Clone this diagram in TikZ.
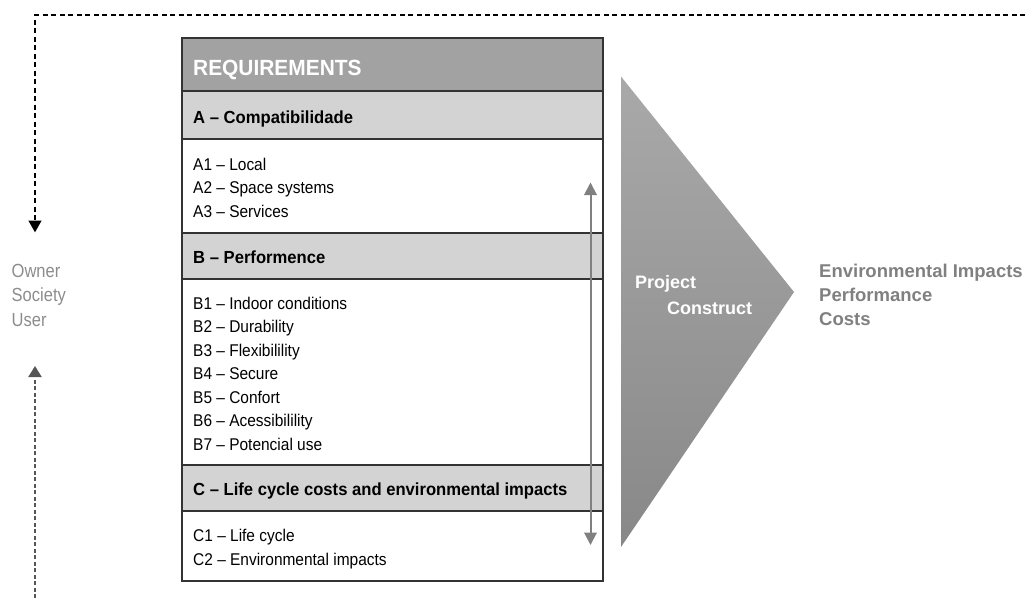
\documentclass[tikz,border=0pt]{standalone}
\usepackage{fontspec}
\setmainfont{Liberation Sans}
\newfontfamily\itemfont{Liberation Sans}[FakeStretch=0.91]
\newfontfamily\ownerfont{Liberation Sans}[FakeStretch=0.87]
\newfontfamily\hdfont{Liberation Sans}[FakeStretch=0.95]
\usetikzlibrary{arrows.meta}
\definecolor{hdrgray}{HTML}{A2A2A2}
\definecolor{subgray}{HTML}{D3D3D3}
\definecolor{ownergray}{HTML}{8C8C8C}
\definecolor{resgray}{HTML}{808080}
\definecolor{arrgray}{HTML}{808080}
\definecolor{boxline}{HTML}{333333}
\definecolor{tritop}{HTML}{A9A9A9}
\definecolor{tribot}{HTML}{888888}
\definecolor{dashgray}{HTML}{555555}
\begin{document}
\begin{tikzpicture}[x=1pt,y=-1pt,
  band/.style={draw=boxline, line width=1.2pt, anchor=north west, inner sep=0pt, outer sep=0pt, minimum width=421pt},
  itemtxt/.style={anchor=base west, inner sep=0pt, font=\itemfont\fontsize{17}{20}\selectfont, text=black},
  headtxt/.style={anchor=base west, inner sep=0pt, font=\hdfont\bfseries\fontsize{17.5}{20}\selectfont, text=black},
  ownertxt/.style={anchor=base west, inner sep=0pt, font=\ownerfont\fontsize{19}{22}\selectfont, text=ownergray},
  restxt/.style={anchor=base west, inner sep=0pt, font=\bfseries\fontsize{18.5}{22}\selectfont, text=resgray},
  pctxt/.style={anchor=base west, inner sep=0pt, font=\bfseries\fontsize{18}{22}\selectfont, text=white},
  feedback/.style={line width=2.8pt, dash pattern=on 5pt off 3.5pt, -{Triangle[width=12.5pt,length=12pt]}},
  feedup/.style={line width=2.2pt, dashgray, dash pattern=on 4pt off 2.5pt, -{Triangle[width=13pt,length=11pt]}}
]
\useasboundingbox (0,0) rectangle (1025,598);

% bands of the requirements table
\node[band, fill=hdrgray, minimum height=53pt] (req) at (182,38) {};
\node[band, fill=subgray, minimum height=48pt] (ahead) at (182,91) {};
\node[band, fill=white, minimum height=94pt] (aitems) at (182,139) {};
\node[band, fill=subgray, minimum height=46pt] (bhead) at (182,233) {};
\node[band, fill=white, minimum height=186pt] (bitems) at (182,279) {};
\node[band, fill=subgray, minimum height=46pt] (chead) at (182,465) {};
\node[band, fill=white, minimum height=70pt] (citems) at (182,511) {};

% header texts
\node[anchor=base west, inner sep=0pt, font=\hdfont\bfseries\fontsize{22}{24}\selectfont, text=white] (reqt) at (193,75) {REQUIREMENTS};
\node[headtxt] (at) at (193,123.5) {A – Compatibilidade};
\node[headtxt] (bt) at (193,263) {B – Performence};
\node[headtxt] (ct) at (193,495) {C – Life cycle costs and environmental impacts};

% items
\node[itemtxt] (a1) at (193,170) {A1 – Local};
\node[itemtxt] (a2) at (193,193.5) {A2 – Space systems};
\node[itemtxt] (a3) at (193,217) {A3 – Services};
\node[itemtxt] (b1) at (193,309) {B1 – Indoor conditions};
\node[itemtxt] (b2) at (193,332.5) {B2 – Durability};
\node[itemtxt] (b3) at (193,356) {B3 – Flexibilility};
\node[itemtxt] (b4) at (193,379.5) {B4 – Secure};
\node[itemtxt] (b5) at (193,403) {B5 – Confort};
\node[itemtxt] (b6) at (193,426.5) {B6 – Acessibilility};
\node[itemtxt] (b7) at (193,450) {B7 – Potencial use};
\node[itemtxt] (c1) at (193,541.5) {C1 – Life cycle};
\node[itemtxt] (c2) at (193,565) {C2 – Environmental impacts};

% double arrow inside the table
\coordinate (dtop) at (590.5,182.5);
\coordinate (dbot) at (590.5,545);
\draw[arrgray, line width=2pt, {Triangle[width=12.5pt,length=12.5pt]}-{Triangle[width=12.5pt,length=12.5pt]}] (dtop) -- (dbot);

% big arrow (triangle)
\shade[top color=tritop, bottom color=tribot] (621,76.5) -- (794,292) -- (621,547) -- cycle;
\node[pctxt] (proj) at (635,288.5) {Project};
\node[pctxt] (cons) at (667,314) {Construct};

% results
\node[restxt] (r1) at (819,277) {Environmental Impacts};
\node[restxt] (r2) at (819,301) {Performance};
\node[restxt] (r3) at (819,325) {Costs};

% actors
\node[ownertxt] (o1) at (11.5,277) {Owner};
\node[ownertxt] (o2) at (11.5,301.5) {Society};
\node[ownertxt] (o3) at (11.5,326) {User};

% feedback loop
\coordinate (tr) at (1025,15);
\coordinate (tl) at (35,15);
\coordinate (ltip) at (35,232.5);
\draw[feedback] (tr) -- (tl) -- (ltip);
\coordinate (bbot) at (35,598);
\coordinate (btip) at (35,366);
\draw[feedup] (bbot) -- (btip);
\end{tikzpicture}
\end{document}
